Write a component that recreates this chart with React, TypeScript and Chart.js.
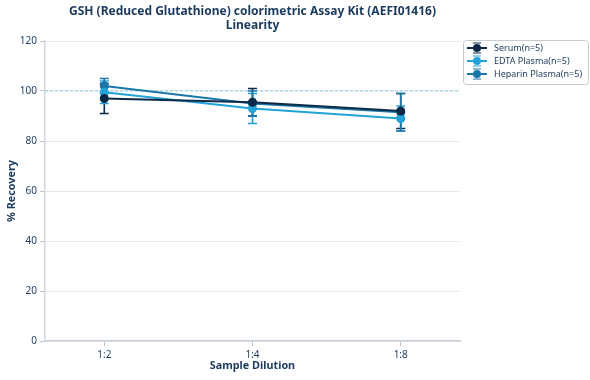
import React, { useEffect, useRef } from "react";
import { Chart, registerables } from "chart.js";

Chart.register(...registerables);

const categories = ["1:2", "1:4", "1:8"];
const seriesNames = ["Serum(n=5)", "EDTA Plasma(n=5)", "Heparin Plasma(n=5)"];
const serum = [97, 95.5, 92];
const serumErr = [6, 5.5, 7];
const edta = [99.5, 93, 89];
const edtaErr = [4.5, 6, 5];
const heparin = [102, 95, 91.5];
const heparinErr = [3, 5, 7.5];
const yTicks = [0, 20, 40, 60, 80, 100, 120];
const refValue = 100;

const colors = ["#0c2a48", "#22a2d6", "#1b77a6"];
const textColor = "#1b3a5c";
const FONT = "'Noto Sans', 'Open Sans', sans-serif";

export default function App() {
  const ref = useRef<HTMLCanvasElement | null>(null);
  useEffect(() => {
    const canvas = ref.current;
    if (!canvas) return;
    const values = [serum, edta, heparin];
    const errs = [serumErr, edtaErr, heparinErr];

    const decor = {
      id: "decor",
      beforeDatasetsDraw(chart: any) {
        const { ctx, chartArea, scales } = chart;
        const y = scales.y.getPixelForValue(refValue);
        ctx.save();
        ctx.strokeStyle = "#8fcbe4";
        ctx.lineWidth = 1;
        ctx.setLineDash([3, 2]);
        ctx.beginPath();
        ctx.moveTo(chartArea.left, y);
        ctx.lineTo(chartArea.right, y);
        ctx.stroke();
        ctx.restore();
        // error bars
        ctx.save();
        ctx.lineWidth = 1.6;
        values.forEach((vals, si) => {
          ctx.strokeStyle = colors[si];
          vals.forEach((v, i) => {
            const x = scales.x.getPixelForValue(i);
            const y1 = scales.y.getPixelForValue(v - errs[si][i]);
            const y2 = scales.y.getPixelForValue(v + errs[si][i]);
            ctx.beginPath();
            ctx.moveTo(x, y1);
            ctx.lineTo(x, y2);
            ctx.moveTo(x - 4.5, y1);
            ctx.lineTo(x + 4.5, y1);
            ctx.moveTo(x - 4.5, y2);
            ctx.lineTo(x + 4.5, y2);
            ctx.stroke();
          });
        });
        ctx.restore();
      },
      afterDraw(chart: any) {
        const { ctx, chartArea } = chart;
        const cx = (chartArea.left + chartArea.right) / 2;
        ctx.save();
        ctx.fillStyle = textColor;
        ctx.textAlign = "center";
        ctx.textBaseline = "middle";
        ctx.font = `bold 12px ${FONT}`;
        ctx.fillText("GSH (Reduced Glutathione) colorimetric Assay Kit (AEFI01416)", cx, 12);
        ctx.fillText("Linearity", cx, 26);
        ctx.font = `bold 10.8px ${FONT}`;
        ctx.fillText("Sample Dilution", cx, 366);
        ctx.save();
        ctx.translate(12, (chartArea.top + chartArea.bottom) / 2);
        ctx.rotate(-Math.PI / 2);
        ctx.fillText("% Recovery", 0, 0);
        ctx.restore();
        // legend
        const lx = 463, ly = 40, lw = 125, lh = 44;
        ctx.strokeStyle = "#c8ccd0";
        ctx.lineWidth = 1;
        ctx.beginPath();
        ctx.roundRect(lx + 0.5, ly + 0.5, lw, lh, 3);
        ctx.stroke();
        ctx.font = `9px ${FONT}`;
        ctx.textAlign = "left";
        seriesNames.forEach((name, i) => {
          const yy = ly + 8 + i * 13;
          ctx.strokeStyle = colors[i];
          ctx.fillStyle = colors[i];
          ctx.lineWidth = 2;
          ctx.beginPath();
          ctx.moveTo(467, yy);
          ctx.lineTo(487, yy);
          ctx.stroke();
          ctx.lineWidth = 1.2;
          ctx.beginPath();
          ctx.moveTo(473, yy - 5);
          ctx.lineTo(481, yy - 5);
          ctx.moveTo(473, yy + 5);
          ctx.lineTo(481, yy + 5);
          ctx.stroke();
          ctx.beginPath();
          ctx.arc(477, yy, 4, 0, Math.PI * 2);
          ctx.fill();
          ctx.fillStyle = textColor;
          ctx.fillText(name, 494, yy);
        });
        ctx.restore();
      },
    };

    const chart = new Chart(canvas, {
      type: "line",
      data: {
        datasets: values.map((vals, si) => ({
          label: seriesNames[si],
          data: vals.map((v, i) => ({ x: i, y: v })),
          borderColor: colors[si],
          backgroundColor: colors[si],
          borderWidth: 2,
          pointRadius: 4.5,
          pointHoverRadius: 4.5,
          pointBorderWidth: 0,
          tension: 0,
        })),
      },
      options: {
        animation: false,
        responsive: false,
        maintainAspectRatio: false,
        layout: { padding: { left: 0, top: 41, right: 130, bottom: 0 } },
        plugins: { legend: { display: false }, tooltip: { enabled: false }, title: { display: false } },
        scales: {
          x: {
            type: "linear",
            min: -0.4,
            max: 2.4,
            afterBuildTicks: (s: any) => {
              s.ticks = categories.map((_, i) => ({ value: i }));
            },
            afterFit: (s: any) => {
              s.height = 39;
            },
            ticks: {
              callback: (v: any) => categories[v as number] ?? "",
              color: textColor,
              font: { family: FONT, size: 10 },
              padding: 3,
              autoSkip: false,
              maxRotation: 0,
            },
            grid: { drawOnChartArea: false, color: "#b8c0c8", tickLength: 5, tickColor: "#b8c0c8" },
            border: { color: "#c8d0d8", width: 1.5 },
          },
          y: {
            min: 0,
            max: 120,
            afterBuildTicks: (s: any) => {
              s.ticks = yTicks.map((v) => ({ value: v }));
            },
            afterFit: (s: any) => {
              s.width = 45;
            },
            ticks: {
              color: textColor,
              font: { family: FONT, size: 10 },
              padding: 3,
            },
            grid: { color: "#e4e8ec", tickLength: 5, tickColor: "#b8c0c8" },
            border: { color: "#d0d6dc", width: 1.5 },
          },
        },
      },
      plugins: [decor],
    });
    return () => chart.destroy();
  }, []);

  return (
    <div style={{ position: "fixed", left: 0, top: 0, width: 590, height: 380, background: "#fff" }}>
      <canvas ref={ref} width={590} height={380} style={{ width: 590, height: 380, display: "block" }} />
    </div>
  );
}
